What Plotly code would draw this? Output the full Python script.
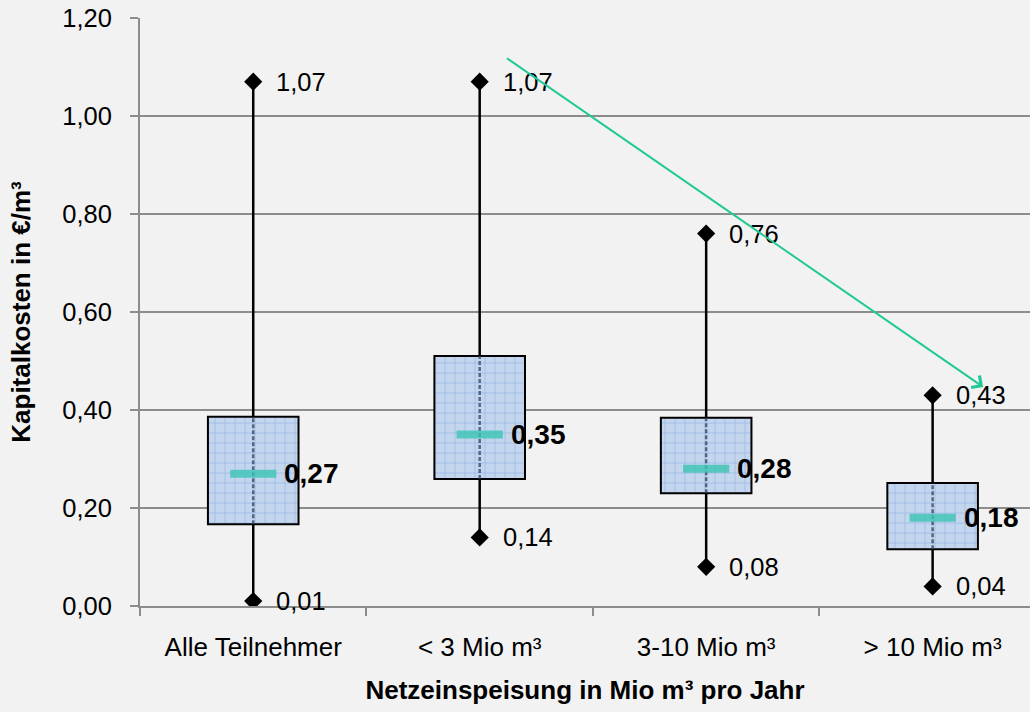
import plotly.graph_objects as go

categories = ["Alle Teilnehmer", "< 3 Mio m³", "3-10 Mio m³", "> 10 Mio m³"]
v_min = [0.01, 0.14, 0.08, 0.04]
v_q1 = [0.167, 0.259, 0.230, 0.116]
v_median = [0.27, 0.35, 0.28, 0.18]
v_q3 = [0.386, 0.510, 0.384, 0.251]
v_max = [1.07, 1.07, 0.76, 0.43]
y_ticks = [0.0, 0.2, 0.4, 0.6, 0.8, 1.0, 1.2]
trend_start = (1.113, 1.12)
trend_end = (3.223, 0.447)

FONT = "Liberation Sans, Arial, sans-serif"
xs = list(range(len(categories)))


def fmt(v):
    return f"{v:.2f}".replace(".", ",")


fig = go.Figure()

# boxes (interquartile range)
fig.add_trace(go.Bar(
    x=xs, base=v_q1, y=[b - a for a, b in zip(v_q1, v_q3)],
    width=0.4,
    marker=dict(color="#c4d5ee", line=dict(color="black", width=2),
                pattern=dict(shape="+", size=10, solidity=0.12,
                             fgcolor="#8fb3e6", bgcolor="#c4d5ee", fillmode="replace")),
    hoverinfo="skip", showlegend=False,
))

# whiskers
wx, wy, ix, iy = [], [], [], []
for i in xs:
    wx += [i, i, None, i, i, None]
    wy += [v_min[i], v_q1[i], None, v_q3[i], v_max[i], None]
    ix += [i, i, None]
    iy += [v_q1[i], v_q3[i], None]
fig.add_trace(go.Scatter(x=wx, y=wy, mode="lines", line=dict(color="black", width=2.5),
                         hoverinfo="skip", showlegend=False))
fig.add_trace(go.Scatter(x=ix, y=iy, mode="lines", line=dict(color="rgba(45,65,95,0.75)", width=2.5, dash="4px,2px"),
                         hoverinfo="skip", showlegend=False))

# min / max diamonds
fig.add_trace(go.Scatter(x=xs + xs, y=v_min + v_max, mode="markers",
                         marker=dict(symbol="diamond", size=14, color="black"),
                         hoverinfo="skip", showlegend=False))

# medians
fig.add_trace(go.Scatter(x=xs, y=v_median, mode="markers",
                         marker=dict(symbol="line-ew", size=33,
                                     line=dict(color="rgba(60,196,180,0.8)", width=8)),
                         hoverinfo="skip", showlegend=False))

annotations = []
for i in xs:
    for v in (v_min[i], v_max[i]):
        annotations.append(dict(x=i, y=v, xref="x", yref="y", text=fmt(v), showarrow=False,
                                xanchor="left", yanchor="middle", xshift=21,
                                font=dict(family=FONT, size=25.5, color="black")))
    annotations.append(dict(x=i, y=v_median[i], xref="x", yref="y", text="<b>" + fmt(v_median[i]) + "</b>",
                            showarrow=False, xanchor="left", yanchor="middle", xshift=29,
                            font=dict(family=FONT, size=28, color="black")))

# trend arrow
annotations.append(dict(x=trend_end[0], y=trend_end[1], ax=trend_start[0], ay=trend_start[1],
                        xref="x", yref="y", axref="x", ayref="y", text="", showarrow=True,
                        arrowhead=4, arrowsize=1.4, arrowwidth=2, arrowcolor="#22c997"))

fig.update_layout(
    width=1030, height=712,
    margin=dict(l=140, r=0, t=18, b=106),
    paper_bgcolor="#f2f2f2", plot_bgcolor="#f2f2f2",
    separators=",.",
    font=dict(family=FONT, size=25, color="black"),
    showlegend=False,
    annotations=annotations,
    xaxis=dict(
        range=[-0.5, 3.43], tickmode="array", tickvals=xs, ticktext=categories,
        ticks="", showgrid=False, zeroline=False,
        showline=True, linecolor="#8c8c8c", linewidth=2,
        tickfont=dict(family=FONT, size=26, color="black"),
        ticklabelstandoff=17,
        minor=dict(tickmode="linear", tick0=-0.5, dtick=1, ticks="outside", ticklen=8,
                   tickcolor="#8c8c8c", tickwidth=2, showgrid=False),
        title=dict(text="<b>Netzeinspeisung in Mio m³ pro Jahr</b>",
                   font=dict(family=FONT, size=26, color="black"), standoff=20),
    ),
    yaxis=dict(
        range=[0, 1.2], tickmode="array", tickvals=y_ticks, tickformat=".2f",
        showgrid=True, gridcolor="#8c8c8c", gridwidth=1.5, zeroline=False,
        showline=True, linecolor="#8c8c8c", linewidth=2,
        ticks="outside", ticklen=8, tickcolor="#8c8c8c", tickwidth=2,
        tickfont=dict(family=FONT, size=25.5, color="black"),
        ticklabelstandoff=13,
        title=dict(text="<b>Kapitalkosten in €/m³</b>",
                   font=dict(family=FONT, size=26, color="black"), standoff=24),
    ),
)

fig.write_html("out.html", config={"displayModeBar": False},
               post_script="document.body.style.margin='0';document.body.style.padding='0';")
